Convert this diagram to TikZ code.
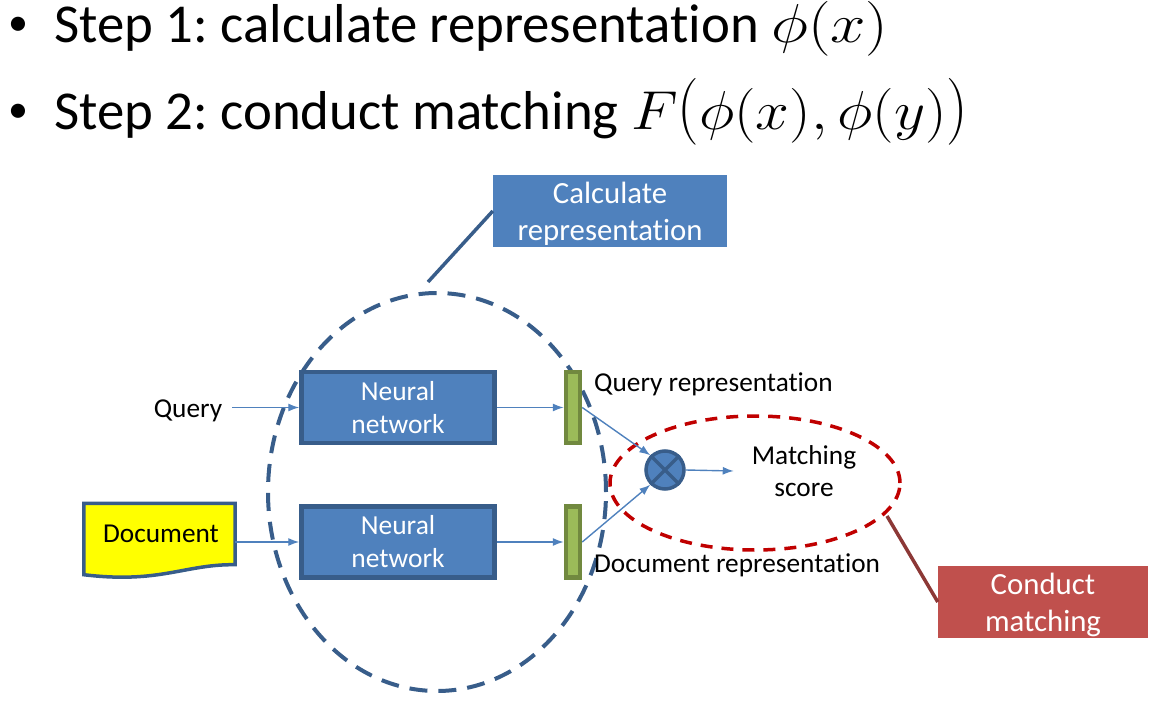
\documentclass[tikz,border=0pt]{standalone}
\usepackage{fix-cm}
\usepackage{fontspec}
\setmainfont[Ligatures=NoCommon]{Carlito}
\usetikzlibrary{positioning, backgrounds, shapes.geometric, arrows.meta}
\definecolor{boxblue}{HTML}{4F81BD}
\definecolor{edgeblue}{HTML}{385D8A}
\definecolor{boxred}{HTML}{C0504D}
\definecolor{edgered}{HTML}{8C3836}
\definecolor{dashred}{HTML}{C00000}
\definecolor{repgreen}{HTML}{9BBB59}
\definecolor{repedge}{HTML}{71893F}
\definecolor{docyellow}{HTML}{FFFF00}
\newcommand{\calloutline}[1]{\raisebox{-11pt}[0pt][0pt]{#1}}
\frenchspacing

\begin{document}
\begin{tikzpicture}[
			x=1pt, y=-1pt,
			title_node/.style={
				anchor=base west,
				inner sep=0pt,
				font=\fontsize{54.8}{60}\selectfont
			},
			net_node/.style={
				rectangle,
				draw=edgeblue,
				line width=4.5pt,
				fill=boxblue,
				text=white,
				text centered,
				text width=120pt,
				minimum width=193pt,
				minimum height=71pt,
				font=\fontsize{27.5}{33}\selectfont
			},
			rep_node/.style={
				rectangle,
				draw=repedge,
				line width=4.5pt,
				fill=repgreen,
				minimum width=14pt,
				minimum height=71pt,
				inner sep=0pt
			},
			callout/.style={
				rectangle,
				text=white,
				text centered,
				minimum height=72pt,
				inner sep=0pt,
				font=\fontsize{30.8}{37}\selectfont
			},
			desc/.style={
				inner sep=0pt,
				font=\fontsize{27.3}{32}\selectfont
			},
			line/.style={
				-{Latex[length=11pt,width=8pt]},
				draw=boxblue,
				line width=1.4pt
			}
			]
			
			\useasboundingbox (0,0) rectangle (1154,701);
			
			% Title
			
			\node [title_node, font=\fontsize{40}{44}\selectfont] (B1) at (8,36) {•};
			\node [title_node, font=\fontsize{40}{44}\selectfont] (B2) at (8,122) {•};
			\node [title_node] (T1) at (54,43) {Step 1: calculate representation \scalebox{1.16}[1]{$\phi(x)$}};
			\node [title_node] (T2) at (54,129) {Step 2: conduct matching \scalebox{1.107}[1]{$F\scalebox{1}[1.22]{$\bigl($}\phi(x),\phi(y)\scalebox{1}[1.22]{$\bigr)$}$}};
			
			% Regions
			
			\node [draw=edgeblue, dash pattern=on 18pt off 11pt, line width=4pt, ellipse, minimum width=338pt, minimum height=398pt, inner sep=0pt] (calc_region) at (437,492) {};
			\node [draw=dashred, dash pattern=on 12pt off 9pt, line width=3.5pt, ellipse, minimum width=290pt, minimum height=134pt, inner sep=0pt] (match_region) at (755,483) {};
			
			% Networks
			
			\node [net_node] (net_q) at (398,407.5) {Neural\\network};
			\node [net_node] (net_d) at (398,542) {Neural\\network};
			
			\node [rep_node] (rep_q) at (573,407.5) {};
			\node [rep_node] (rep_d) at (573,542) {};
			
			% Inputs
			
			\node [desc] (query) at (188,411) {Query};
			\node [desc, minimum width=151pt, minimum height=75pt] (doc) at (159.5,541) {\hspace{3pt}\raisebox{14pt}{Document}};
			\begin{scope}[on background layer]
				\draw [draw=edgeblue, line width=3.5pt, fill=docyellow] (doc.north west) -- (doc.north east) -- ([yshift=14pt]doc.south east) .. controls (185,564) and (160,584) .. ([yshift=4pt]doc.south west) -- cycle;
			\end{scope}
			
			% Matching
			
			\node [circle, draw=edgeblue, line width=3.5pt, fill=boxblue, minimum size=38pt, inner sep=0pt] (cross) at (665,470) {};
			\draw [edgeblue, line width=3.5pt] (cross.45) -- (cross.225) (cross.135) -- (cross.315);
			\node [desc, align=center] (score) at (804,471) {Matching\\score};
			
			\node [desc, anchor=west] (rep_q_label) at (594,384) {Query representation};
			\node [desc, anchor=west] (rep_d_label) at (594,565) {Document representation};
			
			% Callouts
			
			\node [callout, fill=boxblue, minimum width=234pt, text width=234pt] (calc_box) at (610,211) {\calloutline{Calculate}\\\calloutline{representation}};
			\node [callout, fill=boxred, minimum width=210pt, text width=210pt] (match_box) at (1043,602) {\calloutline{Conduct}\\\calloutline{matching}};
			
			\coordinate (calc_end) at (428,282);
			\coordinate (match_end) at (887,516);
			
			% Connections
			
			\draw [line] ([xshift=10pt]query.east |- net_q.west) -- (net_q.west);
			\draw [line] (doc.east |- net_d.west) -- (net_d.west);
			\draw [line] (net_q.east) -- (rep_q.west);
			\draw [line] (net_d.east) -- (rep_d.west);
			\draw [line] (rep_q.east) -- (cross.135);
			\draw [line] (rep_d.east) -- (cross.225);
			\draw [line] (cross.east) -- ++(48pt,-1pt);
			
			\draw [edgeblue, line width=3.5pt] (calc_box.west) -- (calc_end);
			\draw [edgered, line width=3.5pt] (match_box.west) -- (match_end);
			
		\end{tikzpicture}
\end{document}
